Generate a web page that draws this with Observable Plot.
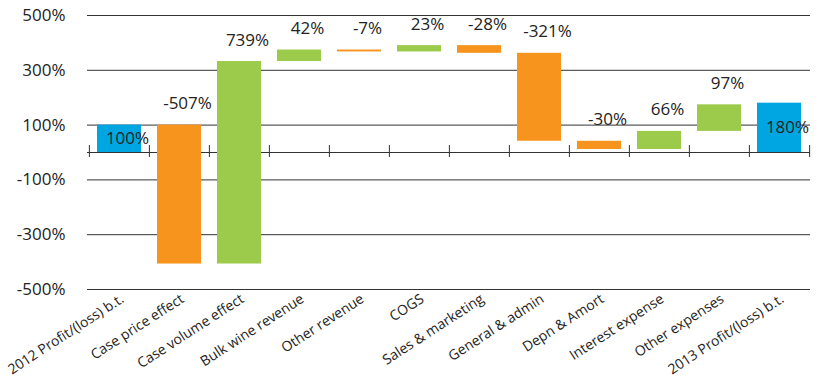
<!DOCTYPE html>
<html>
<head>
<meta charset="utf-8">
<script src="https://cdn.jsdelivr.net/npm/d3@7"></script>
<script src="https://cdn.jsdelivr.net/npm/@observablehq/plot@0.6"></script>
<style>
  html, body { margin: 0; padding: 0; background: #fff; }
  #chart svg { display: block; }
</style>
</head>
<body>
<div id="chart"></div>
<script>
const categories = [
  "2012 Profit/(loss) b.t.", "Case price effect", "Case volume effect",
  "Bulk wine revenue", "Other revenue", "COGS", "Sales & marketing",
  "General & admin", "Depn & Amort", "Interest expense", "Other expenses",
  "2013 Profit/(loss) b.t."
];
const changes = [100, -507, 739, 42, -7, 23, -28, -321, -30, 66, 97, 180];
const isTotal = [true, false, false, false, false, false, false, false, false, false, false, true];
const yTicks = [-500, -300, -100, 100, 300, 500];
const colors = {total: "#00A6E1", up: "#9CCB4B", down: "#F7941E"};

// waterfall table
let running = 0;
const table = categories.map((name, i) => {
  let start, end, kind;
  if (isTotal[i]) { start = 0; end = changes[i]; kind = "total"; running = changes[i]; }
  else { start = running; end = running + changes[i]; running = end; kind = changes[i] >= 0 ? "up" : "down"; }
  return {name, start, end, kind, label: changes[i] + "%", top: Math.max(start, end), mid: (start + end) / 2};
});

const W = 825, H = 387;
const mL = 87, mR = 15, mT = 15, mB = 98;
const pInner = 0.27, pOuter = 0.135;
const step = (W - mL - mR) / (categories.length - pInner + 2 * pOuter);
const font = "'Open Sans', 'Noto Sans', sans-serif";

const chart = Plot.plot({
  width: W,
  height: H,
  marginLeft: mL,
  marginRight: mR,
  marginTop: mT,
  marginBottom: mB,
  style: {fontFamily: font, fontSize: "17px", color: "#222", background: "#fff"},
  x: {domain: categories, paddingInner: pInner, paddingOuter: pOuter, align: 0.5, label: null},
  y: {domain: [-500, 500], label: null},
  color: {type: "identity"},
  marks: [
    Plot.gridY(yTicks, {stroke: "#333", strokeOpacity: 1, strokeWidth: 1}),
    Plot.ruleY([0], {stroke: "#333", strokeWidth: 1.2}),
    Plot.ruleX(categories, {x: d => d, y1: 0, y2: 0, insetTop: -7, insetBottom: -5, dx: -step / 2, stroke: "#333"}),
    Plot.ruleX(categories.slice(-1), {x: d => d, y1: 0, y2: 0, insetTop: -7, insetBottom: -5, dx: step / 2, stroke: "#333"}),
    Plot.barY(table, {x: "name", y1: "start", y2: "end", fill: d => colors[d.kind]}),
    Plot.text(table.filter(d => d.kind !== "total"), {x: "name", y: "top", text: "label", lineAnchor: "bottom", dy: -16, dx: 8, fill: "#222", fontSize: 17}),
    Plot.text(table.filter(d => d.kind === "total"), {x: "name", y: "mid", text: "label", lineAnchor: "middle", dx: 8, fill: "#222", fontSize: 17}),
    Plot.axisY(yTicks, {tickFormat: d => d + "%", tickSize: 0, tickPadding: 22, fontSize: 17, label: null}),
    Plot.axisX({tickSize: 0, tickRotate: -33, tickPadding: 8, dx: 3, fontSize: 14, label: null})
  ]
});
document.getElementById("chart").appendChild(chart);
</script>
</body>
</html>
